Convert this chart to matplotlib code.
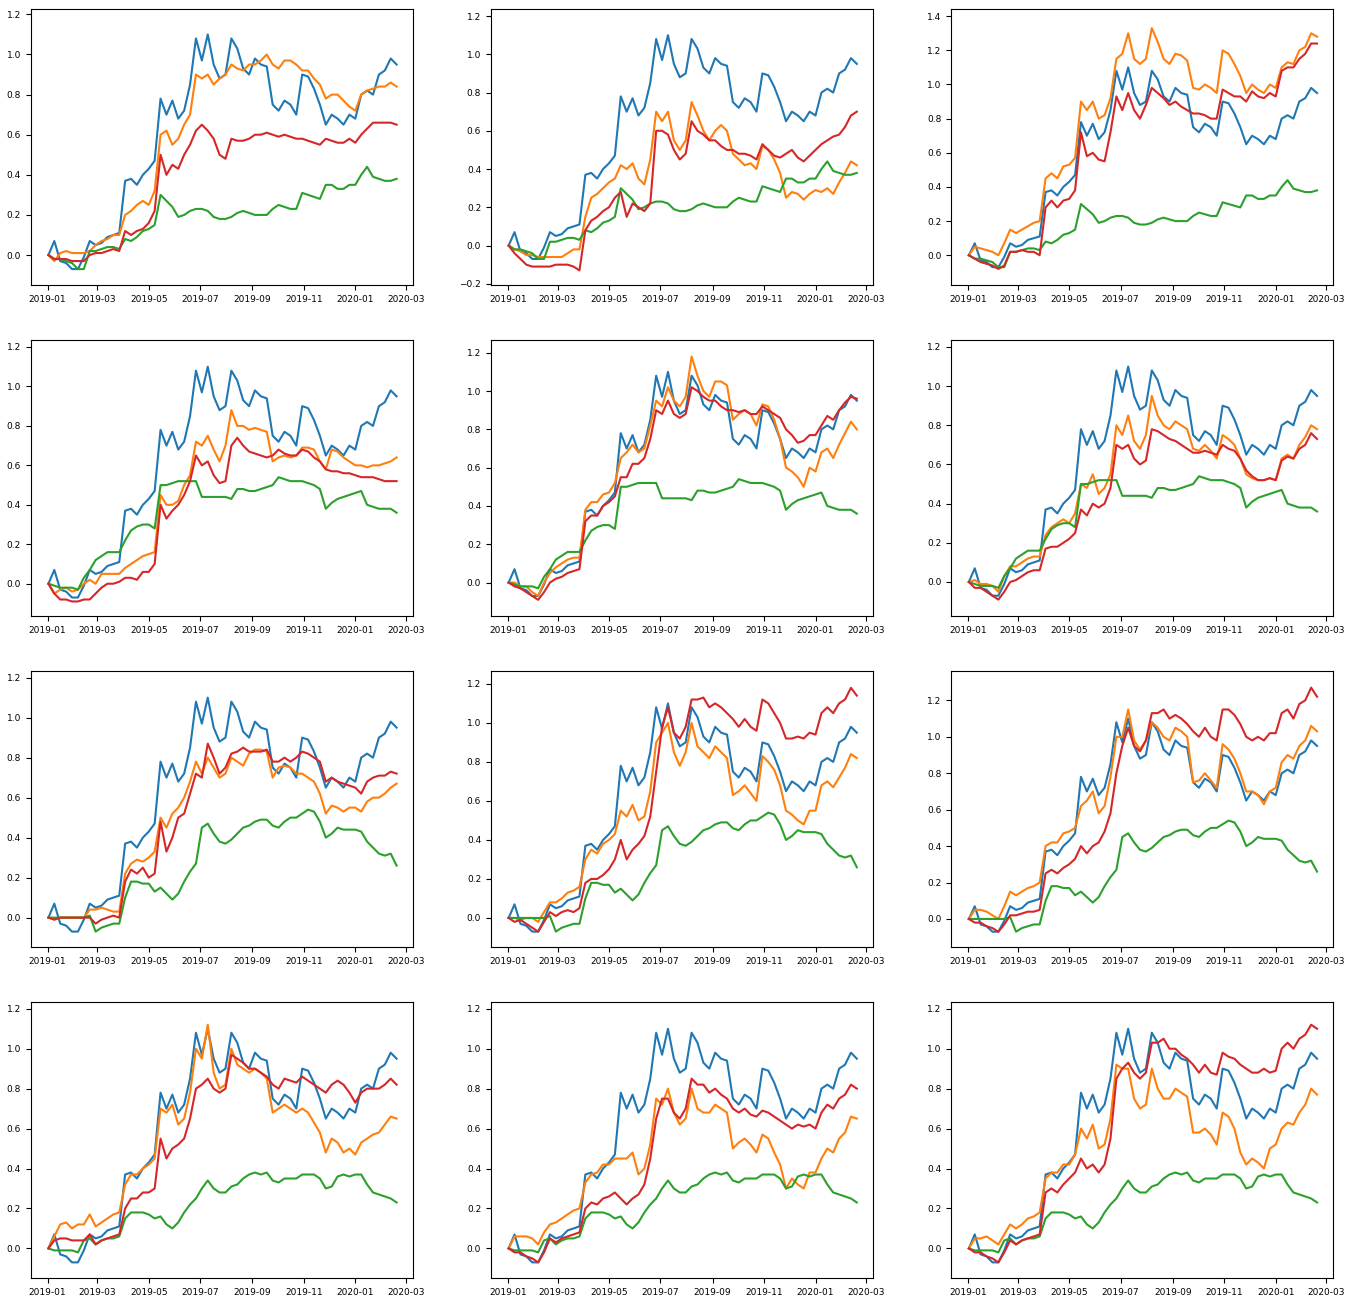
import pandas as pd
import matplotlib
matplotlib.use("Agg")
import matplotlib.pyplot as plt
import matplotlib.dates as mdates

# weekly samples, 2019-01-02 .. 2020-02-19
dates = pd.date_range("2019-01-02", periods=60, freq="7D")

# benchmark (blue) - same in every panel
benchmark = [0.00, 0.07, -0.03, -0.04, -0.07, -0.07, -0.01, 0.07, 0.05, 0.06,
             0.09, 0.10, 0.11, 0.37, 0.38, 0.35, 0.40, 0.43, 0.47, 0.78,
             0.70, 0.77, 0.68, 0.72, 0.85, 1.08, 0.97, 1.10, 0.95, 0.88,
             0.90, 1.08, 1.03, 0.93, 0.90, 0.98, 0.95, 0.94, 0.75, 0.72,
             0.77, 0.75, 0.70, 0.90, 0.89, 0.83, 0.75, 0.65, 0.70, 0.68,
             0.65, 0.70, 0.68, 0.80, 0.82, 0.80, 0.90, 0.92, 0.98, 0.95]

# green series, one per row
green_row1 = [0.00, -0.02, -0.02, -0.03, -0.04, -0.07, -0.07, 0.02, 0.02, 0.03,
              0.04, 0.04, 0.03, 0.08, 0.07, 0.09, 0.12, 0.13, 0.15, 0.30,
              0.27, 0.24, 0.19, 0.20, 0.22, 0.23, 0.23, 0.22, 0.19, 0.18,
              0.18, 0.19, 0.21, 0.22, 0.21, 0.20, 0.20, 0.20, 0.23, 0.25,
              0.24, 0.23, 0.23, 0.31, 0.30, 0.29, 0.28, 0.35, 0.35, 0.33,
              0.33, 0.35, 0.35, 0.40, 0.44, 0.39, 0.38, 0.37, 0.37, 0.38]
green_row2 = [0.00, -0.01, -0.02, -0.02, -0.02, -0.03, 0.03, 0.07, 0.12, 0.14,
              0.16, 0.16, 0.16, 0.22, 0.27, 0.29, 0.30, 0.30, 0.28, 0.50,
              0.50, 0.51, 0.52, 0.52, 0.52, 0.52, 0.44, 0.44, 0.44, 0.44,
              0.44, 0.43, 0.48, 0.48, 0.47, 0.47, 0.48, 0.49, 0.50, 0.54,
              0.53, 0.52, 0.52, 0.52, 0.51, 0.50, 0.48, 0.38, 0.41, 0.43,
              0.44, 0.45, 0.46, 0.47, 0.40, 0.39, 0.38, 0.38, 0.38, 0.36]
green_row3 = [0.00, 0.00, 0.00, 0.00, 0.00, 0.00, 0.00, 0.01, -0.07, -0.05,
              -0.04, -0.03, -0.03, 0.10, 0.18, 0.18, 0.17, 0.17, 0.13, 0.15,
              0.12, 0.09, 0.12, 0.18, 0.23, 0.27, 0.45, 0.47, 0.42, 0.38,
              0.37, 0.39, 0.42, 0.45, 0.46, 0.48, 0.49, 0.49, 0.46, 0.45,
              0.48, 0.50, 0.50, 0.52, 0.54, 0.53, 0.48, 0.40, 0.42, 0.45,
              0.44, 0.44, 0.44, 0.43, 0.38, 0.35, 0.32, 0.31, 0.32, 0.26]
green_row4 = [0.00, -0.01, -0.01, -0.01, -0.01, -0.02, 0.04, 0.05, 0.02, 0.04,
              0.05, 0.05, 0.06, 0.15, 0.18, 0.18, 0.18, 0.17, 0.15, 0.16,
              0.12, 0.10, 0.13, 0.18, 0.22, 0.25, 0.30, 0.34, 0.30, 0.28,
              0.28, 0.31, 0.32, 0.35, 0.37, 0.38, 0.37, 0.38, 0.34, 0.33,
              0.35, 0.35, 0.35, 0.37, 0.37, 0.37, 0.35, 0.30, 0.31, 0.36,
              0.37, 0.36, 0.37, 0.37, 0.32, 0.28, 0.27, 0.26, 0.25, 0.23]

# orange / red series, one per panel
orange_1 = [0.00, -0.03, 0.01, 0.02, 0.01, 0.01, 0.01, 0.02, 0.05, 0.07,
            0.08, 0.10, 0.10, 0.20, 0.22, 0.25, 0.27, 0.25, 0.32, 0.60,
            0.62, 0.55, 0.58, 0.65, 0.70, 0.90, 0.88, 0.90, 0.85, 0.88,
            0.90, 0.95, 0.93, 0.92, 0.95, 0.95, 0.97, 1.00, 0.95, 0.93,
            0.97, 0.97, 0.95, 0.92, 0.92, 0.88, 0.85, 0.78, 0.80, 0.80,
            0.77, 0.74, 0.72, 0.80, 0.82, 0.83, 0.84, 0.84, 0.86, 0.84]
red_1 = [0.00, -0.02, -0.02, -0.02, -0.03, -0.03, -0.03, 0.00, 0.01, 0.01,
         0.02, 0.03, 0.02, 0.12, 0.10, 0.12, 0.13, 0.16, 0.22, 0.50,
         0.40, 0.45, 0.43, 0.50, 0.55, 0.62, 0.65, 0.62, 0.58, 0.50,
         0.48, 0.58, 0.57, 0.57, 0.58, 0.60, 0.60, 0.61, 0.60, 0.59,
         0.60, 0.59, 0.58, 0.58, 0.57, 0.56, 0.55, 0.58, 0.57, 0.56,
         0.56, 0.58, 0.56, 0.60, 0.63, 0.66, 0.66, 0.66, 0.66, 0.65]
orange_2 = [0.00, -0.02, -0.03, -0.05, -0.05, -0.06, -0.06, -0.06, -0.06, -0.06,
            -0.04, -0.02, -0.02, 0.15, 0.25, 0.27, 0.30, 0.33, 0.35, 0.42,
            0.40, 0.43, 0.35, 0.32, 0.45, 0.70, 0.65, 0.70, 0.55, 0.50,
            0.55, 0.75, 0.68, 0.60, 0.55, 0.60, 0.63, 0.60, 0.48, 0.45,
            0.42, 0.43, 0.40, 0.52, 0.50, 0.45, 0.38, 0.25, 0.28, 0.27,
            0.24, 0.27, 0.29, 0.28, 0.30, 0.27, 0.33, 0.38, 0.44, 0.42]
red_2 = [0.00, -0.04, -0.07, -0.10, -0.11, -0.11, -0.11, -0.11, -0.10, -0.10,
         -0.10, -0.11, -0.13, 0.08, 0.13, 0.15, 0.18, 0.20, 0.25, 0.28,
         0.15, 0.22, 0.20, 0.18, 0.22, 0.60, 0.60, 0.58, 0.50, 0.45,
         0.48, 0.65, 0.60, 0.58, 0.55, 0.55, 0.52, 0.50, 0.50, 0.48,
         0.48, 0.47, 0.45, 0.53, 0.50, 0.47, 0.46, 0.48, 0.50, 0.46,
         0.44, 0.47, 0.50, 0.53, 0.55, 0.57, 0.58, 0.62, 0.68, 0.70]
orange_3 = [0.00, 0.05, 0.04, 0.03, 0.02, 0.00, 0.07, 0.15, 0.13, 0.15,
            0.17, 0.19, 0.20, 0.45, 0.48, 0.45, 0.52, 0.53, 0.57, 0.90,
            0.85, 0.90, 0.80, 0.82, 0.92, 1.15, 1.18, 1.30, 1.15, 1.12,
            1.15, 1.33, 1.25, 1.15, 1.12, 1.18, 1.17, 1.14, 0.98, 0.97,
            1.00, 0.98, 0.95, 1.20, 1.18, 1.12, 1.05, 0.95, 1.00, 0.97,
            0.95, 1.00, 0.98, 1.10, 1.13, 1.12, 1.20, 1.22, 1.30, 1.28]
red_3 = [0.00, -0.02, -0.04, -0.05, -0.06, -0.08, -0.06, 0.02, 0.02, 0.03,
         0.02, 0.02, 0.00, 0.28, 0.32, 0.28, 0.32, 0.33, 0.38, 0.72,
         0.58, 0.60, 0.56, 0.55, 0.72, 0.93, 0.85, 0.95, 0.85, 0.80,
         0.88, 0.98, 0.95, 0.92, 0.88, 0.90, 0.87, 0.85, 0.83, 0.83,
         0.82, 0.80, 0.80, 0.97, 0.95, 0.93, 0.93, 0.90, 0.96, 0.93,
         0.92, 0.95, 0.93, 1.08, 1.10, 1.10, 1.15, 1.18, 1.24, 1.24]
orange_4 = [0.00, -0.05, -0.03, -0.02, -0.04, -0.03, 0.00, 0.02, 0.00, 0.05,
            0.05, 0.05, 0.05, 0.08, 0.10, 0.12, 0.14, 0.15, 0.16, 0.45,
            0.40, 0.40, 0.42, 0.50, 0.55, 0.72, 0.70, 0.75, 0.68, 0.62,
            0.70, 0.88, 0.80, 0.80, 0.78, 0.79, 0.78, 0.77, 0.62, 0.64,
            0.65, 0.64, 0.65, 0.69, 0.69, 0.68, 0.62, 0.58, 0.68, 0.67,
            0.64, 0.62, 0.60, 0.60, 0.59, 0.60, 0.60, 0.61, 0.62, 0.64]
red_4 = [0.00, -0.05, -0.08, -0.08, -0.09, -0.09, -0.08, -0.08, -0.05, -0.02,
         0.00, 0.00, 0.01, 0.03, 0.03, 0.02, 0.06, 0.06, 0.10, 0.40,
         0.33, 0.37, 0.40, 0.45, 0.52, 0.65, 0.60, 0.62, 0.55, 0.51,
         0.52, 0.70, 0.74, 0.70, 0.67, 0.66, 0.65, 0.64, 0.65, 0.68,
         0.66, 0.65, 0.65, 0.68, 0.67, 0.64, 0.62, 0.58, 0.57, 0.57,
         0.56, 0.56, 0.55, 0.54, 0.54, 0.54, 0.53, 0.52, 0.52, 0.52]
orange_5 = [0.00, 0.00, -0.02, -0.02, -0.05, -0.07, 0.00, 0.05, 0.08, 0.10,
            0.12, 0.13, 0.13, 0.38, 0.42, 0.42, 0.46, 0.47, 0.52, 0.65,
            0.68, 0.72, 0.68, 0.70, 0.82, 0.95, 0.92, 1.02, 0.95, 0.92,
            0.97, 1.18, 1.08, 1.00, 0.97, 1.05, 1.05, 1.03, 0.85, 0.88,
            0.90, 0.88, 0.82, 0.93, 0.92, 0.85, 0.75, 0.60, 0.58, 0.55,
            0.50, 0.60, 0.58, 0.68, 0.70, 0.65, 0.72, 0.78, 0.84, 0.80]
red_5 = [0.00, -0.02, -0.03, -0.05, -0.07, -0.09, -0.05, 0.00, 0.02, 0.03,
         0.05, 0.06, 0.07, 0.32, 0.35, 0.35, 0.40, 0.42, 0.45, 0.55,
         0.55, 0.62, 0.62, 0.65, 0.75, 0.90, 0.88, 0.95, 0.88, 0.86,
         0.88, 1.02, 1.00, 0.97, 0.95, 0.95, 0.92, 0.90, 0.90, 0.89,
         0.90, 0.88, 0.88, 0.92, 0.90, 0.88, 0.86, 0.80, 0.77, 0.73,
         0.74, 0.77, 0.77, 0.82, 0.87, 0.85, 0.90, 0.94, 0.97, 0.96]
orange_6 = [0.00, 0.01, -0.01, -0.01, -0.02, -0.05, 0.03, 0.08, 0.08, 0.10,
            0.12, 0.13, 0.13, 0.24, 0.28, 0.30, 0.32, 0.30, 0.35, 0.50,
            0.48, 0.55, 0.45, 0.48, 0.55, 0.80, 0.75, 0.85, 0.72, 0.68,
            0.75, 0.95, 0.85, 0.80, 0.78, 0.82, 0.80, 0.78, 0.68, 0.67,
            0.70, 0.67, 0.63, 0.75, 0.73, 0.70, 0.63, 0.55, 0.53, 0.52,
            0.52, 0.53, 0.52, 0.63, 0.65, 0.63, 0.70, 0.74, 0.80, 0.78]
red_6 = [0.00, -0.03, -0.03, -0.05, -0.07, -0.09, -0.05, 0.00, 0.01, 0.03,
         0.05, 0.06, 0.06, 0.17, 0.18, 0.18, 0.20, 0.22, 0.25, 0.37,
         0.34, 0.40, 0.38, 0.40, 0.48, 0.70, 0.68, 0.70, 0.63, 0.60,
         0.62, 0.78, 0.77, 0.75, 0.73, 0.72, 0.70, 0.68, 0.66, 0.66,
         0.67, 0.66, 0.65, 0.70, 0.68, 0.67, 0.63, 0.57, 0.54, 0.52,
         0.52, 0.53, 0.52, 0.62, 0.64, 0.63, 0.68, 0.70, 0.76, 0.73]
orange_7 = [0.00, -0.01, 0.00, 0.00, 0.00, 0.00, 0.00, 0.04, 0.04, 0.05,
            0.04, 0.03, 0.03, 0.22, 0.27, 0.29, 0.28, 0.30, 0.33, 0.50,
            0.45, 0.52, 0.55, 0.60, 0.68, 0.78, 0.72, 0.80, 0.75, 0.70,
            0.72, 0.80, 0.78, 0.76, 0.82, 0.84, 0.84, 0.83, 0.70, 0.75,
            0.76, 0.75, 0.72, 0.72, 0.70, 0.68, 0.62, 0.52, 0.56, 0.55,
            0.53, 0.55, 0.55, 0.53, 0.58, 0.60, 0.60, 0.62, 0.65, 0.67]
red_7 = [0.00, -0.01, 0.00, 0.00, 0.00, 0.00, 0.00, 0.00, -0.03, -0.01,
         0.00, 0.01, 0.00, 0.18, 0.24, 0.22, 0.25, 0.20, 0.22, 0.48,
         0.33, 0.40, 0.50, 0.52, 0.62, 0.72, 0.70, 0.87, 0.80, 0.72,
         0.75, 0.82, 0.83, 0.85, 0.83, 0.83, 0.83, 0.84, 0.78, 0.78,
         0.80, 0.78, 0.80, 0.83, 0.82, 0.80, 0.78, 0.68, 0.70, 0.68,
         0.67, 0.66, 0.65, 0.62, 0.68, 0.70, 0.71, 0.71, 0.73, 0.72]
orange_8 = [0.00, 0.00, -0.01, 0.00, 0.00, -0.02, 0.03, 0.08, 0.08, 0.10,
            0.13, 0.14, 0.16, 0.30, 0.35, 0.33, 0.38, 0.40, 0.43, 0.55,
            0.52, 0.58, 0.50, 0.52, 0.65, 0.90, 0.95, 1.00, 0.85, 0.78,
            0.85, 1.00, 0.88, 0.85, 0.82, 0.88, 0.85, 0.82, 0.63, 0.65,
            0.68, 0.64, 0.60, 0.83, 0.80, 0.76, 0.68, 0.55, 0.53, 0.50,
            0.48, 0.55, 0.55, 0.68, 0.70, 0.67, 0.72, 0.77, 0.84, 0.82]
red_8 = [0.00, -0.02, -0.01, -0.03, -0.05, -0.07, -0.02, 0.03, 0.01, 0.03,
         0.04, 0.03, 0.05, 0.18, 0.20, 0.20, 0.22, 0.25, 0.30, 0.40,
         0.30, 0.35, 0.38, 0.42, 0.52, 0.75, 0.98, 1.08, 0.95, 0.92,
         0.98, 1.12, 1.12, 1.13, 1.08, 1.10, 1.08, 1.05, 1.02, 0.98,
         1.02, 0.98, 0.96, 1.12, 1.10, 1.05, 1.00, 0.92, 0.92, 0.93,
         0.92, 0.95, 0.94, 1.05, 1.08, 1.05, 1.10, 1.12, 1.18, 1.14]
orange_9 = [0.00, 0.05, 0.05, 0.04, 0.02, 0.00, 0.07, 0.15, 0.13, 0.15,
            0.17, 0.18, 0.20, 0.40, 0.42, 0.42, 0.47, 0.48, 0.50, 0.62,
            0.65, 0.70, 0.58, 0.62, 0.78, 1.00, 1.00, 1.15, 0.98, 0.93,
            0.98, 1.08, 1.05, 1.00, 0.98, 1.05, 1.03, 1.00, 0.75, 0.76,
            0.80, 0.76, 0.72, 0.96, 0.93, 0.88, 0.80, 0.70, 0.70, 0.68,
            0.63, 0.70, 0.72, 0.86, 0.90, 0.88, 0.95, 0.98, 1.06, 1.03]
red_9 = [0.00, -0.02, -0.02, -0.04, -0.05, -0.07, -0.03, 0.02, 0.02, 0.03,
         0.04, 0.04, 0.05, 0.25, 0.27, 0.25, 0.28, 0.30, 0.33, 0.40,
         0.36, 0.40, 0.42, 0.48, 0.58, 0.80, 0.95, 1.05, 0.95, 0.92,
         0.98, 1.13, 1.13, 1.15, 1.10, 1.12, 1.10, 1.07, 1.03, 1.00,
         1.05, 1.00, 0.98, 1.15, 1.15, 1.12, 1.07, 1.00, 0.98, 1.00,
         0.98, 1.02, 1.02, 1.13, 1.15, 1.10, 1.18, 1.20, 1.27, 1.22]
orange_10 = [0.00, 0.06, 0.12, 0.13, 0.10, 0.12, 0.12, 0.17, 0.11, 0.13,
             0.15, 0.17, 0.18, 0.32, 0.37, 0.37, 0.40, 0.42, 0.45, 0.70,
             0.68, 0.72, 0.62, 0.65, 0.78, 1.00, 0.95, 1.12, 0.88, 0.80,
             0.82, 1.00, 0.92, 0.90, 0.88, 0.90, 0.88, 0.85, 0.68, 0.70,
             0.72, 0.70, 0.68, 0.70, 0.68, 0.63, 0.58, 0.48, 0.55, 0.53,
             0.48, 0.50, 0.47, 0.53, 0.55, 0.57, 0.58, 0.62, 0.66, 0.65]
red_10 = [0.00, 0.04, 0.05, 0.05, 0.04, 0.04, 0.04, 0.07, 0.02, 0.04,
          0.05, 0.06, 0.07, 0.20, 0.25, 0.25, 0.28, 0.28, 0.30, 0.55,
          0.45, 0.50, 0.52, 0.55, 0.65, 0.80, 0.82, 0.85, 0.80, 0.78,
          0.80, 0.97, 0.95, 0.93, 0.90, 0.90, 0.88, 0.86, 0.82, 0.80,
          0.85, 0.84, 0.83, 0.86, 0.84, 0.82, 0.80, 0.78, 0.82, 0.84,
          0.82, 0.78, 0.73, 0.78, 0.80, 0.80, 0.80, 0.82, 0.85, 0.82]
orange_11 = [0.00, 0.06, 0.06, 0.06, 0.05, 0.02, 0.08, 0.12, 0.13, 0.15,
             0.17, 0.19, 0.20, 0.33, 0.37, 0.38, 0.42, 0.42, 0.45, 0.45,
             0.45, 0.48, 0.37, 0.40, 0.52, 0.75, 0.72, 0.80, 0.68, 0.62,
             0.65, 0.80, 0.70, 0.68, 0.68, 0.72, 0.70, 0.68, 0.50, 0.53,
             0.55, 0.52, 0.48, 0.57, 0.55, 0.48, 0.42, 0.30, 0.35, 0.32,
             0.30, 0.38, 0.38, 0.45, 0.50, 0.48, 0.55, 0.58, 0.66, 0.65]
red_11 = [0.00, -0.02, -0.02, -0.04, -0.05, -0.07, -0.02, 0.05, 0.03, 0.05,
          0.06, 0.07, 0.08, 0.20, 0.23, 0.22, 0.25, 0.26, 0.28, 0.25,
          0.22, 0.25, 0.27, 0.32, 0.45, 0.65, 0.75, 0.75, 0.68, 0.65,
          0.70, 0.85, 0.82, 0.82, 0.78, 0.80, 0.77, 0.75, 0.70, 0.68,
          0.70, 0.67, 0.66, 0.69, 0.68, 0.66, 0.64, 0.62, 0.60, 0.62,
          0.61, 0.62, 0.60, 0.68, 0.72, 0.70, 0.75, 0.77, 0.82, 0.80]
orange_12 = [0.00, 0.05, 0.05, 0.06, 0.04, 0.02, 0.07, 0.12, 0.10, 0.12,
             0.15, 0.16, 0.18, 0.35, 0.38, 0.38, 0.42, 0.42, 0.47, 0.60,
             0.55, 0.62, 0.50, 0.52, 0.65, 0.92, 0.90, 0.90, 0.75, 0.70,
             0.72, 0.90, 0.80, 0.75, 0.75, 0.80, 0.78, 0.76, 0.58, 0.58,
             0.60, 0.57, 0.52, 0.68, 0.66, 0.60, 0.48, 0.42, 0.45, 0.43,
             0.40, 0.50, 0.52, 0.60, 0.63, 0.62, 0.68, 0.72, 0.80, 0.77]
red_12 = [0.00, -0.02, -0.02, -0.04, -0.05, -0.07, -0.02, 0.04, 0.02, 0.04,
          0.05, 0.06, 0.07, 0.28, 0.30, 0.28, 0.32, 0.35, 0.38, 0.45,
          0.40, 0.42, 0.38, 0.42, 0.55, 0.85, 0.90, 0.93, 0.88, 0.85,
          0.88, 1.03, 1.03, 1.05, 1.00, 1.00, 0.97, 0.95, 0.92, 0.88,
          0.92, 0.88, 0.87, 0.98, 0.96, 0.95, 0.92, 0.90, 0.88, 0.88,
          0.90, 0.88, 0.89, 1.00, 1.03, 1.00, 1.05, 1.07, 1.12, 1.10]

oranges = [orange_1, orange_2, orange_3, orange_4, orange_5, orange_6,
           orange_7, orange_8, orange_9, orange_10, orange_11, orange_12]
reds = [red_1, red_2, red_3, red_4, red_5, red_6,
        red_7, red_8, red_9, red_10, red_11, red_12]
greens = [green_row1, green_row2, green_row3, green_row4]

# y limits as seen in the picture
ylims = [(-0.15, 1.225), (-0.207, 1.235), (-0.175, 1.44),
         (-0.164, 1.234), (-0.175, 1.265), (-0.174, 1.234),
         (-0.147, 1.232), (-0.149, 1.265), (-0.154, 1.36),
         (-0.148, 1.233), (-0.148, 1.233), (-0.148, 1.233)]

plt.rcParams["font.size"] = 6.5

fig, axes = plt.subplots(4, 3, figsize=(13.65, 12.99), dpi=100)
fig.subplots_adjust(left=0.0225, right=0.9766, top=0.9928, bottom=0.0162,
                    wspace=0.205, hspace=0.2)

for i, ax in enumerate(axes.flat):
    ax.plot(dates, benchmark, color="C0", lw=1.5)
    ax.plot(dates, oranges[i], color="C1", lw=1.5)
    ax.plot(dates, greens[i // 3], color="C2", lw=1.5)
    ax.plot(dates, reds[i], color="C3", lw=1.5)
    ax.set_xlim(pd.Timestamp("2018-12-12"), pd.Timestamp("2020-03-09"))
    ax.set_ylim(*ylims[i])
    ax.xaxis.set_major_locator(mdates.MonthLocator(interval=2))
    ax.xaxis.set_major_formatter(mdates.DateFormatter("%Y-%m"))
    ax.yaxis.set_major_locator(plt.MultipleLocator(0.2))

fig.savefig("out.png", dpi=100)
